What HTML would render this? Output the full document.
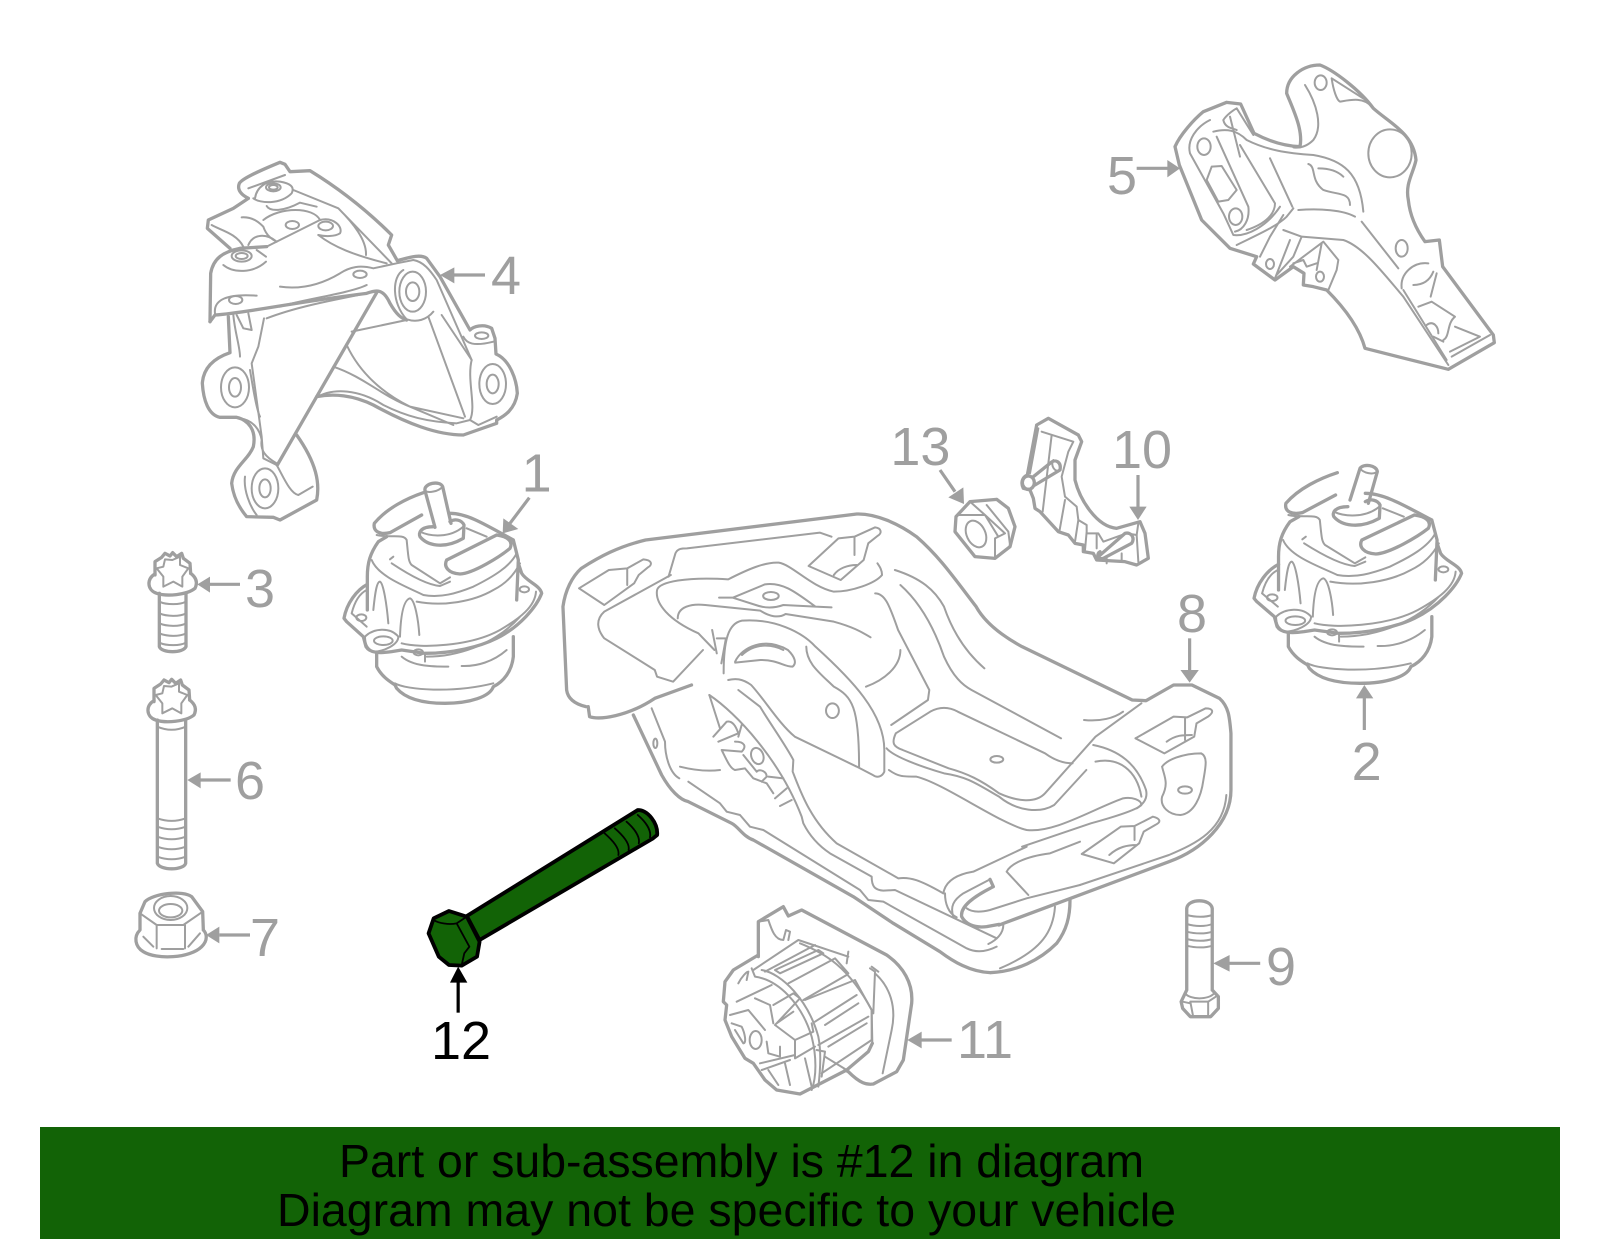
<!DOCTYPE html>
<html><head><meta charset="utf-8"><style>
html,body{margin:0;padding:0;background:#fff;width:1600px;height:1249px;overflow:hidden}
svg{display:block}
path,ellipse,line{vector-effect:non-scaling-stroke;fill:none;stroke:#9f9f9f;stroke-linejoin:round;stroke-linecap:round;stroke-width:2}
.o path,path.o,ellipse.o{stroke-width:3.3}
polygon{fill:#9f9f9f;stroke:none}
line{stroke-width:3.2;stroke-linecap:butt}
.n{font:54px "Liberation Sans",sans-serif;fill:#9f9f9f}
.t{font:46px "Liberation Sans",sans-serif;fill:#000}
.b path{stroke:#000;fill:none;stroke-width:1.8}
.b path.f{fill:#126306;stroke-width:3.8}
</style></head><body>
<svg width="1600" height="1249" viewBox="0 0 1600 1249" xmlns="http://www.w3.org/2000/svg">
<rect x="40" y="1127" width="1520" height="112" fill="#126306"/>
<text class="t" x="339" y="1177" textLength="805" lengthAdjust="spacingAndGlyphs">Part or sub-assembly is #12 in diagram</text>
<text class="t" x="277" y="1226" textLength="899" lengthAdjust="spacingAndGlyphs">Diagram may not be specific to your vehicle</text>

<!-- part 4 -->
<g transform="translate(120,130) scale(.33333)">
<g class="o">
<path d="M385 205C365 195 350 180 358 160C365 148 400 130 480 97L495 103L510 125L570 122C640 165 730 230 815 315L805 345L832 392"/>
<path d="M385 205L340 235L265 270L262 295L330 355"/>
<path d="M270 575L272 430C280 385 310 365 360 355L440 350"/>
<path d="M832 392C860 385 900 370 920 385L960 440L1050 600C1060 590 1090 580 1115 595L1125 625L1128 672C1170 690 1190 750 1192 790C1185 840 1150 860 1130 870L1130 880L1030 915C950 915 860 880 760 825C700 795 640 790 590 800L472 1005"/>
<path d="M270 575L285 555C370 550 500 520 740 490C770 480 790 475 810 520C830 555 845 565 860 570"/>
<path d="M325 560L330 668C280 685 250 715 247 760C250 810 265 855 300 862L350 862C385 870 410 900 400 950C385 990 340 1010 335 1060C340 1100 355 1130 380 1160L460 1162L480 1170L590 1110C600 1060 590 1000 530 915"/>
<path d="M770 488L590 800"/>
</g>
<ellipse cx="460" cy="172" rx="22" ry="12"/><ellipse cx="460" cy="172" rx="13" ry="7"/>
<ellipse cx="365" cy="378" rx="30" ry="17"/><ellipse cx="365" cy="378" rx="18" ry="9"/>
<ellipse cx="517" cy="285" rx="20" ry="12"/><ellipse cx="617" cy="288" rx="22" ry="13"/>
<ellipse cx="347" cy="510" rx="20" ry="12"/><ellipse cx="720" cy="433" rx="20" ry="11"/>
<ellipse cx="878" cy="485" rx="20" ry="28"/><ellipse cx="878" cy="485" rx="40" ry="60"/>
<ellipse cx="345" cy="772" rx="18" ry="28"/><ellipse cx="345" cy="772" rx="42" ry="60"/>
<ellipse cx="1118" cy="762" rx="18" ry="28"/><ellipse cx="1118" cy="762" rx="40" ry="60"/>
<ellipse cx="1085" cy="617" rx="20" ry="10"/><ellipse cx="435" cy="1075" rx="17" ry="27"/><ellipse cx="435" cy="1075" rx="40" ry="60"/>
<path d="M400 205C420 220 480 225 515 190C525 170 510 160 480 155C440 150 410 170 405 205M385 175L495 135"/>
<path d="M520 180L655 235L815 400M595 315C640 350 700 375 800 400M655 235C700 280 740 330 738 375"/>
<path d="M440 350L600 270C640 260 670 290 660 310C645 320 615 320 595 315M430 270C480 230 580 230 600 270M440 228C450 245 490 245 540 218L590 230"/>
<path d="M365 262C400 260 420 280 430 290C440 320 460 330 470 335C440 310 400 310 385 345M275 285C300 300 350 310 370 350"/>
<path d="M480 470C550 480 610 460 660 430C690 410 720 405 760 415L830 400L880 390C910 395 930 420 950 450L1055 690C1040 750 1070 830 1050 870"/>
<path d="M285 550C280 510 320 490 410 497M310 405C340 430 400 430 438 395M410 360L438 380"/>
<path d="M440 565C530 530 640 510 740 490M740 465C690 490 540 510 480 530M860 570L695 605M850 420C815 440 815 520 860 568C890 578 920 570 940 545"/>
<path d="M432 565L415 650L395 700L425 920L430 985L470 1005"/>
<path d="M340 555C345 610 360 650 360 680M350 555L370 595L395 600L385 550M360 865C400 870 420 900 425 930C420 960 435 980 470 1000"/>
<path d="M680 645C720 730 790 790 870 830L1030 865M640 710C730 740 790 800 870 830L1000 885M925 560L1035 860M965 555L1055 690M1030 620C1040 640 1060 650 1120 635"/>
<path d="M470 1005C490 1040 510 1090 535 1095L578 1070M585 805C640 770 720 780 790 825C860 860 920 875 1010 880L1050 870L1075 885L1130 860"/>
<path d="M390 720C400 780 410 840 420 860M375 1040C370 1080 390 1130 410 1155"/>
<line x1="1095" y1="435" x2="1000" y2="435"/>
<polygon points="960,435 1003,412 1003,460"/>
<text class="n" x="1113" y="492" style="font-size:162px">4</text>
<text class="n" x="1205" y="1085" style="font-size:162px">1</text>
</g>

<!-- part 5 -->
<g transform="translate(1080,40) scale(.33333)">
<path class="o" d="M298 375L285 320C300 285 340 240 370 215L440 187L482 192L522 280C560 300 610 318 660 320C670 270 640 210 620 160C620 110 670 75 720 75C760 90 840 150 880 205C930 250 1000 280 1008 360C1000 400 975 430 985 480C990 530 1010 570 1035 605L1078 600L1088 680L1240 885L1243 908L1105 988L855 925C840 870 800 810 740 750L700 740L670 735L672 700L640 680L585 720L520 672L530 650L450 625L365 540Z"/>
<ellipse cx="372" cy="320" rx="20" ry="25"/><ellipse cx="467" cy="530" rx="20" ry="25"/><ellipse cx="930" cy="340" rx="65" ry="72"/>
<ellipse cx="965" cy="625" rx="18" ry="25"/><ellipse cx="722" cy="128" rx="18" ry="22"/><ellipse cx="570" cy="672" rx="12" ry="15"/><ellipse cx="720" cy="710" rx="12" ry="15"/>
<path d="M390 240C350 260 320 300 330 340L430 520L460 585C500 590 560 560 600 500M400 275C440 265 470 270 500 300C560 330 620 340 700 345C790 360 840 400 850 515"/>
<path d="M380 420L395 380L425 378L470 450L445 480L415 485Z"/>
<path d="M410 290L505 500C510 540 490 570 465 575M480 315L585 490C585 520 560 550 500 570M570 355L637 500M450 230L480 350M430 240C440 225 460 210 470 205L520 285M430 240C435 265 460 265 470 270"/>
<path d="M675 135C710 190 730 260 700 300C680 320 660 325 640 322M755 115C760 150 770 180 780 185C810 180 850 170 875 200M755 115L865 185"/>
<path d="M685 372C710 380 690 420 730 450C770 465 810 455 810 495M715 385C750 385 775 395 790 410M655 510C720 505 790 510 825 530M640 505L620 530C590 560 520 590 470 615M845 545L955 685"/>
<path d="M610 525L570 590L540 650M610 570L665 590L790 600C850 620 910 700 970 770L1105 975M630 600L585 715M665 590L640 650L590 705M630 680L730 605L775 660L770 690L745 750M640 670L670 660L680 680L710 670M725 610L710 690"/>
<path d="M965 745C960 700 1000 665 1045 670M1000 735C1030 735 1050 720 1060 695M1070 700L1052 770M970 750L1100 960"/>
<path d="M1015 800L1055 785L1125 830C1100 850 1110 890 1090 900M1125 860L1200 890L1110 935M1040 855C1060 840 1075 860 1075 880M1060 890L1090 905M1230 885L1115 950"/>
<line x1="170" y1="385" x2="265" y2="385"/><polygon points="300,385 262,360 262,412"/>
<text class="n" x="81" y="462" style="font-size:162px">5</text>
</g>

<!-- mount shared -->
<defs><g id="mb">
<g transform="translate(660,60)">
<path class="o" d="M250 68C200 85 140 115 103 160C98 185 120 195 150 188L245 135"/>
<path class="o" d="M280 170C240 170 235 190 240 200C260 225 310 240 370 205L372 165C365 150 345 145 330 155"/>
<path class="o" d="M470 195L320 270C310 290 325 310 360 312C400 310 480 260 510 235C520 215 505 200 470 195"/>
<path class="o" d="M330 130C380 130 430 160 520 210L535 270L530 390"/>
<path class="o" d="M140 200L115 215C90 250 82 280 82 320L82 420"/>
<path d="M240 185C270 200 330 205 370 170M380 175L440 200"/>
<path d="M110 195C150 205 190 190 200 210C205 260 205 275 215 285L300 340L330 322"/>
<path d="M95 270C115 320 200 350 250 375C300 385 350 370 400 350C460 320 510 290 530 250"/>
<path d="M150 268L160 260M155 280C200 310 260 345 300 348L330 335"/>
<path d="M230 395C310 410 400 395 460 360C510 335 530 300 540 280"/>
</g>
<path class="o" d="M1195 340L1205 370C1220 395 1260 405 1265 430C1250 470 1200 530 1130 565C1080 590 1000 610 915 610L845 600L815 605C780 610 750 610 738 590L730 560L680 515L672 505C680 460 710 420 742 403"/>
<path class="o" d="M770 610L770 650C785 680 810 695 825 705L830 715C860 750 920 760 975 760C1050 760 1110 740 1120 710C1150 695 1175 665 1180 620L1180 560"/>
<path d="M760 480C765 430 770 395 780 395C790 400 800 460 805 520M840 560C842 500 850 450 870 445C885 450 895 510 898 555"/>
<path d="M695 490C705 450 720 430 740 420M695 490L740 530"/>
<ellipse cx="724" cy="503" rx="15" ry="10"/><ellipse cx="790" cy="572" rx="28" ry="13"/><ellipse cx="895" cy="607" rx="14" ry="9"/><ellipse cx="1213" cy="418" rx="14" ry="9"/>
<path d="M735 560C760 535 810 530 835 560C835 585 790 605 760 605C740 595 735 580 735 560"/>
<path d="M845 580C900 595 1050 590 1140 540C1200 505 1245 470 1248 425M920 620C1000 620 1120 590 1200 500M915 610L915 635"/>
<path d="M825 700C860 720 1000 730 1120 700M845 620C880 650 940 650 985 650M1025 648C1070 650 1120 635 1160 600"/>
</g></defs>
<g transform="translate(120,450) scale(.33333)">
<use href="#mb"/>
<path class="o" d="M915 122C910 100 960 90 968 110L993 220M915 122L945 232"/><path d="M915 122C925 130 955 125 968 110"/>
<line x1="1228" y1="143" x2="1170" y2="220"/><polygon points="1148,250 1150,205 1195,237"/>
</g>
<!-- part 2 -->
<g transform="translate(1230,440) scale(.33333) translate(70,-30) scale(1.05,1) translate(-670,0)"><use href="#mb"/></g>
<g transform="translate(1230,440) scale(.33333)">
<path class="o" d="M360 180L390 85C400 70 440 75 442 95L415 190"/><path d="M390 85C400 100 430 105 442 95"/>
<line x1="403" y1="870" x2="403" y2="770"/><polygon points="403,735 378,775 430,775"/>
<text class="n" x="365" y="1020" style="font-size:162px">2</text>
</g>

<!-- bolts 3 6 7 -->
<defs><g id="hd">
<path class="o" d="M105 375L105 335L125 322L135 310L150 318L158 308L170 320L185 310L190 325L210 340L212 370"/>
<path class="o" d="M105 372C80 385 80 420 110 430C140 440 200 435 225 415C235 395 225 380 212 370"/>
<path d="M110 355L130 350L135 328L157 330L180 320L180 345L205 355L187 380L187 410L160 395L130 410L130 380Z"/>
</g></defs>
<g transform="translate(120,450) scale(.33333)">
<use href="#hd"/>
<path class="o" d="M118 430L118 590C125 610 190 610 198 590L198 430"/>
<path d="M118 455C140 465 180 465 198 455M118 490C140 500 180 500 198 490M118 520C140 530 180 530 198 520M118 550C140 560 180 560 198 550M118 578C140 588 180 588 198 578"/>
<line x1="360" y1="403" x2="265" y2="403"/><polygon points="232,403 270,380 270,428"/>
<use href="#hd" transform="translate(-3,380)"/>
<path class="o" d="M112 810L112 1240C120 1262 190 1262 197 1240L197 810"/>
<path d="M112 830C140 842 170 842 197 830M112 1105C140 1115 170 1115 197 1105M112 1130C140 1140 170 1140 197 1130M112 1160C140 1170 170 1170 197 1160M112 1190C140 1200 170 1200 197 1190M112 1220C140 1230 170 1230 197 1220"/>
<line x1="332" y1="990" x2="240" y2="990"/><polygon points="202,990 242,967 242,1015"/>
<path class="o" d="M60 1390L75 1355C100 1330 190 1320 215 1340L248 1385L250 1440M60 1390L60 1440C40 1460 45 1490 70 1505C110 1530 210 1525 245 1490C265 1470 260 1450 250 1440"/>
<ellipse cx="152" cy="1374" rx="50" ry="36"/><ellipse cx="152" cy="1382" rx="35" ry="20"/>
<path d="M60 1390L110 1425L190 1425L248 1385M110 1425L110 1495M195 1425L195 1495M125 1497L190 1497M70 1460L100 1490M240 1450L205 1490"/>
<line x1="390" y1="1455" x2="298" y2="1455"/><polygon points="258,1455 298,1430 298,1480"/>
<text class="n" x="375" y="471" style="font-size:162px">3</text>
<text class="n" x="345" y="1047" style="font-size:162px">6</text>
<text class="n" x="390" y="1518" style="font-size:162px">7</text>
</g>

<!-- part 8 -->
<g transform="translate(540,490) scale(.4591,.33333)">
<g class="o">
<path d="M100 650C70 640 60 620 58 600L50 350C55 300 70 260 90 235C130 200 170 170 230 150L690 72C730 70 780 100 820 140C870 200 900 260 950 350C970 400 1010 440 1050 470L1290 630L1320 632L1380 585L1420 585L1480 625C1500 650 1502 680 1505 730L1505 900C1505 1000 1440 1080 1370 1115L1000 1305"/>
<path d="M105 650L108 680C130 690 190 680 250 625L330 585"/>
</g>
<path d="M285 255L140 365C120 390 125 420 140 445L250 540L255 560L290 575L355 480"/>
<path d="M140 345L85 295L150 240L190 235L225 208C245 210 245 225 235 232L215 255L205 280L140 345M190 235L190 285"/>
<path d="M280 260L295 190C300 175 310 175 320 175L610 128L635 140"/>
<path d="M585 228L650 145L685 140L730 112C745 115 745 130 735 138L715 160L705 210L655 270L585 228M685 140L685 195M640 255C650 235 670 225 690 225"/>
<path d="M255 300C260 275 320 260 410 268C450 240 490 215 520 218C550 225 590 290 640 305C680 305 730 280 745 255C745 240 740 230 735 220M255 300C250 340 280 390 345 430L380 480"/>
<path d="M300 385C300 350 330 340 360 345L480 362C500 380 520 385 535 372L640 395C680 410 700 425 720 442"/>
<path d="M390 323L420 323L490 283C530 275 560 310 600 350L635 352M420 323L470 345C490 355 510 355 530 345L600 350"/>
<ellipse cx="503" cy="318" rx="17" ry="12"/>
<path d="M400 550C400 450 410 400 440 392C510 385 570 425 600 470C680 570 750 670 750 780L750 845C745 860 735 865 725 855L690 830L555 740C520 700 490 630 460 585C440 565 425 565 410 570"/>
<path d="M385 445L405 445L395 520M375 420L385 490"/>
<path d="M425 515C440 470 490 440 540 480C555 500 560 520 550 530C530 530 520 510 480 510L425 518M440 495C470 455 510 465 530 480"/>
<path d="M580 470C580 520 610 550 640 590C680 620 695 650 695 830"/>
<path d="M730 310C750 310 760 340 780 420L848 600L845 630L765 705M785 480C785 530 750 570 710 590"/>
<path d="M785 285C830 340 860 420 880 500C900 560 920 585 940 600L1135 745M773 240C830 265 860 300 880 350C900 430 930 490 968 535"/>
<path d="M775 730L850 665C870 650 890 650 910 665L1100 790C1120 810 1140 820 1160 820M775 730C765 760 770 770 790 780L890 835C930 850 960 870 1000 910C1040 935 1080 940 1100 910L1210 740L1310 640"/>
<path d="M755 775C770 800 830 830 880 850C930 860 950 880 1000 920C1040 965 1090 970 1120 945L1190 840"/>
<path d="M760 840C780 860 790 860 820 860C880 880 1000 1000 1060 1020C1120 1030 1200 960 1270 925C1290 920 1310 930 1310 945C1300 960 1240 985 1200 1000L1050 1070"/>
<path d="M1185 690C1220 695 1250 685 1270 665M1205 765C1260 780 1300 820 1320 900C1325 930 1310 945 1300 955M1210 815C1260 800 1300 840 1310 920"/>
<path d="M1297 745L1380 680L1410 682L1450 655C1465 655 1470 665 1455 680L1430 700L1425 740L1360 790L1297 745M1405 685L1405 750M1365 755C1385 735 1400 735 1420 735"/>
<path d="M1355 830C1365 810 1400 790 1440 790C1455 800 1450 830 1445 870C1440 920 1425 970 1395 975C1370 975 1350 950 1355 920C1370 880 1360 860 1355 830"/>
<ellipse cx="1405" cy="900" rx="15" ry="11"/><ellipse cx="995" cy="808" rx="14" ry="10"/><ellipse cx="637" cy="662" rx="14" ry="22"/>
<path d="M1180 1092L1265 1010L1295 1008L1335 980C1350 985 1355 995 1340 1005L1315 1025L1305 1060L1250 1120L1180 1092M1295 1010L1295 1050M1240 1095C1260 1070 1280 1065 1300 1065"/>
<path d="M1495 915C1490 1020 1430 1060 1370 1095L1176 1185"/>
<line x1="1415" y1="445" x2="1415" y2="540"/><polygon points="1415,578 1395,540 1435,540"/>
</g>
<!-- part 8 lower-left -->
<g transform="translate(620,690) scale(.33333)">
<path class="o" d="M40 75L125 255C150 300 180 330 205 335L335 400C355 410 370 440 400 450L700 620L820 700L960 785C1000 815 1050 845 1110 848C1190 845 1260 810 1310 760C1340 720 1350 680 1350 630"/>
<path class="o" d="M1137 703L1100 710C1060 715 1035 700 1025 680C1020 650 1060 620 1120 590L1110 568"/>
<path d="M95 55L135 155C135 200 150 250 178 265M205 275L300 340L320 365L360 375L390 410L430 420L720 600L745 630L790 635L1040 775C1070 790 1100 785 1130 770"/>
<path d="M268 15C350 70 480 210 545 380L550 400C570 440 600 470 630 490L755 560C755 590 765 600 790 602L825 600L1130 745"/>
<path d="M355 0L420 50C450 100 500 170 520 210L518 245C540 300 570 390 650 460L835 565C870 560 900 570 970 610"/>
<path d="M1150 705C1150 730 1130 750 1105 762M1305 650C1300 720 1270 780 1140 835"/>
<path d="M268 15L300 115M280 140L320 95C340 90 350 115 355 130L295 155M365 105L355 140M305 180L365 185C380 170 375 155 345 155M305 180C320 210 330 235 345 240L375 235L400 265L440 280L460 310M370 195L410 245M445 260L490 265M410 245C420 235 440 245 440 260L425 275M465 325L500 295M480 348L515 330M180 230C220 240 260 245 300 240"/>
<ellipse cx="412" cy="198" rx="18" ry="25" transform="rotate(-20 412 198)"/><ellipse cx="106" cy="160" rx="6" ry="14"/>
<path d="M970 610C975 580 1000 555 1060 545L1220 470M1110 568L1030 610C1000 630 990 650 1000 680M975 610C975 640 985 670 1010 682M1040 655C1060 670 1090 665 1110 660L1220 625L1380 585M1160 545L1225 615M1160 545C1170 525 1210 500 1290 490L1380 455"/>
</g>
<text class="n" x="1177" y="632">8</text>

<!-- nut 13 + bracket 10 -->
<g transform="translate(940,410) scale(.33333)">
<path class="o" d="M48 320L90 275L170 268L205 295L225 350L210 410L165 445L105 440L45 365Z"/>
<ellipse cx="108" cy="372" rx="28" ry="42" transform="rotate(-25 108 372)"/>
<path d="M55 315L135 315L195 370L165 385L165 440M135 315L175 380M90 275L135 315M140 285L205 365M205 365L210 405"/>
<line x1="0" y1="180" x2="45" y2="245"/><polygon points="72,282 25,262 70,232"/>
<path class="o" d="M290 45L325 25L415 75L425 95L405 150L405 210C420 270 470 350 530 355L600 335L615 370L625 445L590 465L555 455L470 450L460 430L430 425L430 405L405 400L385 375L355 365L300 305L285 295L280 265L270 240L250 235C240 215 250 200 262 195L290 45"/>
<path d="M305 65L400 95L385 125L365 200L375 260L410 290L415 330L440 345L440 370L475 370L490 395L560 370L590 375L595 340M335 75L308 305M295 55L270 190M375 270L358 365M415 330L405 395M440 365L435 420M470 370L470 415"/>
<path class="o" d="M280 200L330 160C345 145 365 155 360 180L285 225"/><ellipse class="o" cx="265" cy="218" rx="18" ry="20"/>
<path d="M340 150C330 165 345 190 360 180"/>
<path class="o" d="M475 440L555 370C575 365 585 385 575 400L490 445C470 450 470 430 480 425"/>
<path d="M500 445L500 460M545 430L545 450M590 375L595 455"/>
<line x1="594" y1="195" x2="594" y2="295"/><polygon points="594,330 568,290 620,290"/>
<text class="n" x="-149" y="165" style="font-size:162px">13</text>
<text class="n" x="516" y="174" style="font-size:162px">10</text>
</g>

<!-- part 9 -->
<g transform="translate(800,800) scale(.5102,.33333)">
<path class="o" d="M758 570L758 325C760 295 805 295 808 325L808 570M758 570L747 605L750 625L765 650L805 650L820 625L820 590L808 570"/>
<path d="M758 345C775 352 795 352 808 345M758 372C775 380 795 380 808 372M758 395C775 402 795 402 808 395M758 417C775 424 795 424 808 417M758 437C775 444 795 444 808 437M755 580C765 600 800 600 812 580M765 605L800 605L815 590M765 605L770 645M800 605L800 645M750 605L765 610"/>
<line x1="902" y1="490" x2="840" y2="490"/><polygon points="810,490 842,465 842,515"/>
</g>
<text class="n" x="1266" y="985">9</text>

<!-- part 11 -->
<g transform="translate(700,890) scale(.33333)">
<path class="o" d="M175 200L175 95L250 50L265 78L305 60L560 195C610 230 640 280 635 340L610 510L590 545L520 582C500 585 480 580 445 545L435 540"/>
<path d="M175 95L205 90C215 120 225 150 250 150L258 120L270 125L265 150M525 250C570 290 590 350 575 420L548 550M510 235L525 245L520 370"/>
<line x1="755" y1="450" x2="660" y2="450"/><polygon points="622,450 665,425 665,475"/>
<text class="n" x="771" y="504" style="font-size:162px">11</text>
</g>
<g transform="translate(715,930) scale(.33333)">
<path class="o" d="M130 75L55 120L30 155L25 215L35 225L30 270L50 320L90 385L115 400L150 450L185 480L255 492L395 420L460 365L472 340"/>
<path d="M110 115L120 140C190 150 260 220 290 320C305 380 305 440 290 480M140 120C200 130 280 210 310 320C320 370 315 430 310 470"/>
<path d="M115 120L250 30L400 80M150 125L300 45M180 120L310 60L325 70L195 130ZM220 160L360 85L400 130L395 135L265 210M255 40C330 70 400 110 470 240L472 340M400 65L395 100M470 110L490 125"/>
<path d="M270 210L420 150L470 240L470 330L320 430M300 275L425 195M330 285L430 220M310 345L460 260M340 350L455 280"/>
<path d="M120 205L165 225L175 280M175 225L235 190L255 205L180 285M180 285L240 330L295 305L290 280M240 330L240 385L300 350M185 280L235 245"/>
<path d="M45 255L100 240L150 300M70 160C80 140 95 125 100 125M65 215L170 165M100 125L95 150"/>
<ellipse cx="122" cy="330" rx="18" ry="27"/>
<path d="M155 335L160 370L195 380L195 350M50 280L80 290C90 310 95 340 85 340L60 300"/>
<path d="M135 400L240 375M140 420L225 390M210 400L225 465M270 385L290 470M305 360L330 365L320 440M330 380L395 420M160 420L190 465"/>
</g>

<!-- part 12 -->
<g class="b" transform="translate(0,800) scale(.5102,.33333)">
<path class="f" d="M915 348L1250 30C1270 30 1290 70 1288 105L1280 115L940 420Z"/>
<path class="f" d="M880 333L850 355L840 400L860 470L880 495L905 497L935 470L940 425L915 350Z"/>
<path d="M850 360C860 370 880 375 895 370L915 350M895 370L920 440L910 460L905 495M1185 100C1200 120 1215 145 1212 165M1205 85C1220 105 1235 130 1232 150M1228 65C1243 85 1255 110 1252 130M1250 45C1265 65 1277 90 1274 112"/>
<line x1="898" y1="638" x2="898" y2="545" style="stroke:#000"/><polygon points="898,500 882,548 916,548" style="fill:#000"/>
</g>
<text class="n" x="431" y="1059" style="fill:#000">12</text>
</svg>
</body></html>
